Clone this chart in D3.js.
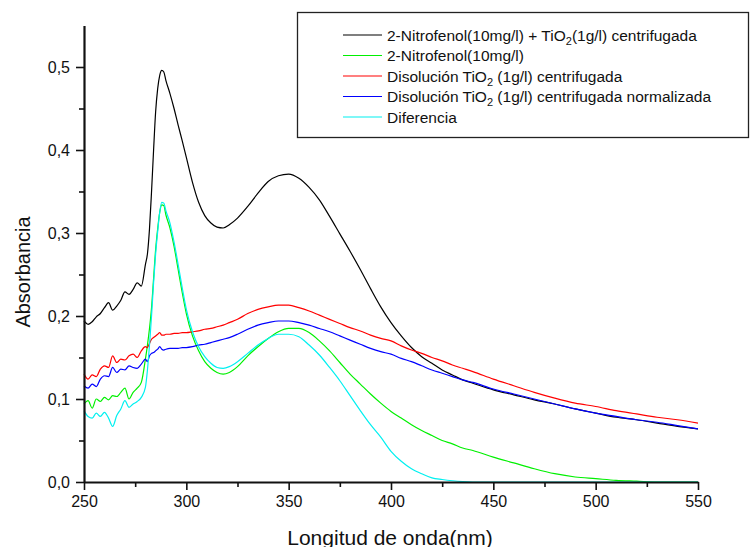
<!DOCTYPE html>
<html>
<head>
<meta charset="utf-8">
<script src="https://cdn.jsdelivr.net/npm/d3@7"></script>
<style>
  body { margin: 0; background: #fff; }
  svg { font-family: "Liberation Sans", Arial, sans-serif; }
</style>
</head>
<body>
<div id="chart"></div>
<script>
// wavelengths (nm) shared by all series
const wavelengths = [250,252,254,256,258,260,262,264,266,268,270,272,274,276,278,280,
  281,282,283,284,285,286,287,288,289,290,292,294,296,298,300,
  303,306,309,312,315,318,321,
  325,330,335,340,345,350,355,360,365,370,375,380,385,390,395,400,405,410,415,420,425,430,435,440,
  450,460,470,480,490,500,510,520,530,540,550];

// 2-Nitrofenol + TiO2 centrifugada
const mezcla = [0.194,0.190,0.193,0.199,0.203,0.210,0.216,0.207,0.212,0.219,0.229,0.226,0.232,0.240,0.236,0.262,
  0.275,0.305,0.350,0.400,0.446,0.474,0.490,0.496,0.494,0.484,0.468,0.450,0.430,0.411,0.391,
  0.361,0.337,0.321,0.312,0.307,0.306,0.310,
  0.318,0.332,0.348,0.362,0.369,0.371,0.366,0.355,0.340,0.320,0.299,0.278,0.256,0.233,0.211,0.192,0.176,0.162,0.151,0.143,0.135,0.129,0.123,0.119,
  0.111,0.105,0.099,0.094,0.088,0.083,0.078,0.075,0.071,0.067,0.064];

// 2-Nitrofenol
const nitrofenol = [0.094,0.098,0.089,0.100,0.097,0.102,0.099,0.104,0.103,0.108,0.113,0.100,0.108,0.113,0.120,0.148,
  0.165,0.185,0.210,0.245,0.280,0.305,0.325,0.334,0.333,0.322,0.306,0.284,0.256,0.228,0.203,
  0.176,0.158,0.145,0.137,0.132,0.130,0.132,
  0.139,0.152,0.163,0.173,0.181,0.185,0.185,0.180,0.170,0.158,0.144,0.130,0.118,0.106,0.095,0.085,0.077,0.069,0.062,0.056,0.050,0.046,0.041,0.038,
  0.030,0.023,0.016,0.010,0.006,0.004,0.002,0.001,0.000,0.000,0.000];

// Disolucion TiO2 centrifugada
const tio2 = [0.130,0.124,0.129,0.127,0.136,0.140,0.138,0.152,0.144,0.148,0.147,0.152,0.154,0.150,0.158,0.163,
  0.162,0.167,0.172,0.174,0.176,0.178,0.180,0.177,0.177,0.178,0.178,0.179,0.179,0.180,0.180,
  0.181,0.182,0.184,0.185,0.187,0.189,0.192,
  0.196,0.203,0.208,0.211,0.213,0.213,0.210,0.206,0.201,0.196,0.191,0.186,0.182,0.177,0.173,0.170,0.164,0.159,0.155,0.150,0.146,0.141,0.137,0.133,
  0.124,0.116,0.108,0.101,0.095,0.091,0.086,0.082,0.078,0.075,0.071];

// Disolucion TiO2 centrifugada normalizada
const tio2Norm = [0.116,0.113,0.118,0.115,0.124,0.128,0.127,0.138,0.132,0.136,0.135,0.140,0.138,0.137,0.142,0.148,
  0.145,0.152,0.155,0.156,0.158,0.160,0.163,0.160,0.159,0.160,0.161,0.161,0.161,0.162,0.162,
  0.163,0.165,0.166,0.168,0.170,0.172,0.174,
  0.178,0.184,0.189,0.192,0.194,0.194,0.192,0.189,0.185,0.181,0.176,0.171,0.166,0.161,0.157,0.154,0.149,0.145,0.140,0.135,0.131,0.127,0.123,0.120,
  0.112,0.106,0.100,0.094,0.088,0.083,0.079,0.075,0.072,0.068,0.064];

// Diferencia
const diferencia = [0.086,0.079,0.077,0.083,0.079,0.084,0.077,0.067,0.080,0.088,0.098,0.090,0.094,0.097,0.102,0.114,
  0.135,0.165,0.200,0.240,0.275,0.302,0.325,0.337,0.336,0.327,0.312,0.289,0.262,0.234,0.208,
  0.181,0.163,0.151,0.143,0.138,0.137,0.139,
  0.145,0.155,0.165,0.173,0.178,0.178,0.175,0.165,0.153,0.138,0.122,0.104,0.086,0.069,0.054,0.037,0.025,0.016,0.010,0.005,0.003,0.0015,0.0005,0.000,
  0.000,0.000,0.000,0.000,0.000,0.000,0.000,0.000,0.000,0.000,0.000];

const xTicks = [250,300,350,400,450,500,550];
const yTicks = [0,0.1,0.2,0.3,0.4,0.5];

const width = 750, height = 547;

let svg = d3.select("#chart").append("svg")
  .attr("width", width)
  .attr("height", height);

let x = d3.scaleLinear().domain([250, 550]).range([84, 698]);
let y = d3.scaleLinear().domain([0, 0.55]).range([482, 25.5]);

let comma = v => d3.format(".1f")(v).replace(".", ",");

// curves
let series = [
  {vals: mezcla, color: "#000000"},
  {vals: nitrofenol, color: "#00f000"},
  {vals: tio2, color: "#ff0000"},
  {vals: tio2Norm, color: "#0000ff"},
  {vals: diferencia, color: "#00f0f0"}
];

let line = d3.line()
  .x(d => x(d[0]))
  .y(d => y(d[1]))
  .curve(d3.curveMonotoneX);

svg.append("g").selectAll("path")
  .data(series).enter()
  .append("path")
  .attr("d", s => line(wavelengths.map((w, i) => [w, s.vals[i]])))
  .attr("fill", "none")
  .attr("stroke", s => s.color)
  .attr("stroke-width", 1.2);

// minor ticks
let xMinor = svg.append("g")
  .attr("transform", "translate(0,482)")
  .call(d3.axisBottom(x).tickValues([275,325,375,425,475,525]).tickSize(5).tickFormat(""));
let yMinor = svg.append("g")
  .attr("transform", "translate(84,0)")
  .call(d3.axisLeft(y).tickValues([0.05,0.15,0.25,0.35,0.45]).tickSize(5).tickFormat(""));

// major axes
let xAxis = svg.append("g")
  .attr("transform", "translate(0,482)")
  .call(d3.axisBottom(x).tickValues(xTicks).tickSize(8).tickSizeOuter(0).tickPadding(6));
let yAxis = svg.append("g")
  .attr("transform", "translate(84,0)")
  .call(d3.axisLeft(y).tickValues(yTicks).tickSize(8).tickSizeOuter(0).tickPadding(6).tickFormat(comma));

[xMinor, yMinor].forEach(g => g.select(".domain").remove());
[xAxis, yAxis, xMinor, yMinor].forEach(g => {
  g.selectAll("line").attr("stroke", "#111").attr("stroke-width", 1.6);
  g.selectAll("text").attr("font-size", 16).attr("fill", "#111")
    .attr("font-family", "'Liberation Sans', Arial, sans-serif");
});
[xAxis, yAxis].forEach(g => g.select(".domain").attr("stroke", "#111").attr("stroke-width", 2.2));

// axis titles
svg.append("text")
  .attr("x", 390).attr("y", 545)
  .attr("text-anchor", "middle")
  .attr("font-size", 21)
  .attr("fill", "#111")
  .text("Longitud de onda(nm)");

svg.append("text")
  .attr("transform", "translate(30,272) rotate(-90)")
  .attr("text-anchor", "middle")
  .attr("font-size", 20)
  .attr("fill", "#111")
  .text("Absorbancia");

// legend
let legend = svg.append("g");
legend.append("rect")
  .attr("x", 297.5).attr("y", 12.5)
  .attr("width", 451).attr("height", 125)
  .attr("fill", "#fff")
  .attr("stroke", "#222").attr("stroke-width", 1.3);

let legendItems = [
  {color: "#000000", parts: ["2-Nitrofenol(10mg/l) + TiO", "2", "(1g/l) centrifugada"]},
  {color: "#00f000", parts: ["2-Nitrofenol(10mg/l)"]},
  {color: "#ff0000", parts: ["Disolución TiO", "2", " (1g/l) centrifugada"]},
  {color: "#0000ff", parts: ["Disolución TiO", "2", " (1g/l) centrifugada normalizada"]},
  {color: "#00f0f0", parts: ["Diferencia"]}
];

legendItems.forEach((item, i) => {
  let ly = 35 + i * 20.5;
  legend.append("line")
    .attr("x1", 343).attr("x2", 382)
    .attr("y1", ly).attr("y2", ly)
    .attr("stroke", item.color).attr("stroke-width", 1.2);
  let t = legend.append("text")
    .attr("x", 387).attr("y", ly + 5.5)
    .attr("font-size", 15.5)
    .attr("fill", "#111");
  t.append("tspan").text(item.parts[0]);
  if (item.parts.length > 1) {
    t.append("tspan").attr("dy", 4).attr("font-size", 11).text(item.parts[1]);
    t.append("tspan").attr("dy", -4).text(item.parts[2]);
  }
});
</script>
</body>
</html>
